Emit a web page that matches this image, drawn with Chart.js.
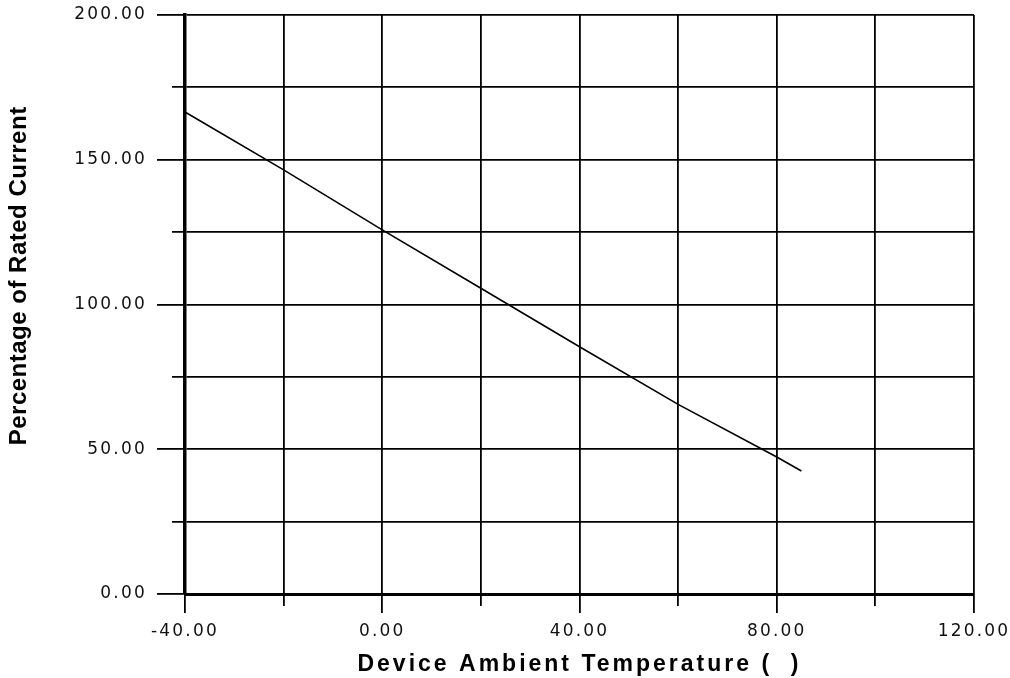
<!DOCTYPE html>
<html>
<head>
<meta charset="utf-8">
<script src="https://cdn.jsdelivr.net/npm/chart.js@4/dist/chart.umd.min.js"></script>
<style>
  html, body { margin: 0; padding: 0; background: #fff; }
  #wrap { width: 1010px; height: 678px; }
</style>
</head>
<body>
<div id="wrap"><canvas id="derating" width="1010" height="678"></canvas></div>
<script>
// values
const temps = [-40, -20, 0, 20, 40, 60, 80, 85];
const currentPct = [166.5, 146.5, 125.8, 105.6, 85.4, 65.5, 47.3, 42.5];

const xTitle = 'Device Ambient Temperature (  )';
const yTitle = '        Percentage of Rated Current';

const TICK_SPACING = '2.2px';

// linear scale that draws its text with letter spacing (the original labels are wide)
class SpacedScale extends Chart.LinearScale {
    update(maxWidth, maxHeight, margins) {
        this.ctx.letterSpacing = TICK_SPACING;
        const res = super.update(maxWidth, maxHeight, margins);
        this.ctx.letterSpacing = '0px';
        return res;
    }
    drawLabels(area) {
        this.ctx.save();
        this.ctx.letterSpacing = TICK_SPACING;
        super.drawLabels(area);
        this.ctx.restore();
    }
    drawTitle() {
        this.ctx.save();
        this.ctx.letterSpacing = this.axis === 'y' ? '0.5px' : '3px';
        super.drawTitle();
        this.ctx.restore();
    }
}
SpacedScale.id = 'spaced';
SpacedScale.defaults = Chart.LinearScale.defaults;
Chart.register(SpacedScale);

const tickFont = { family: 'DejaVu Sans', size: 17 };

const points = temps.map((t, i) => ({ x: t, y: currentPct[i] }));

new Chart(document.getElementById('derating'), {
    type: 'line',
    data: {
        datasets: [{
            data: points,
            borderColor: '#000',
            borderWidth: 1.6,
            pointRadius: 0,
            tension: 0,
            fill: false
        }]
    },
    options: {
        responsive: false,
        animation: false,
        events: [],
        layout: { padding: { top: 15, right: 36, left: 0, bottom: 0 } },
        plugins: { legend: { display: false }, tooltip: { enabled: false } },
        scales: {
            x: {
                type: 'spaced',
                min: -40,
                max: 120,
                ticks: {
                    stepSize: 20,
                    padding: 8,
                    color: '#111',
                    font: tickFont,
                    maxRotation: 0,
                    autoSkip: false,
                    callback: v => (v % 40 === 0 ? v.toFixed(2) : '')
                },
                grid: {
                    color: '#000',
                    lineWidth: 1.8,
                    tickLength: 19,
                    tickColor: '#000',
                    tickWidth: 1.8,
                    // short stubs for the unlabelled ticks
                    tickBorderDash: ctx => (ctx.tick && ctx.tick.value % 40 !== 0 ? [10, 40] : [])
                },
                border: { display: true, color: '#000', width: 3 },
                title: {
                    display: true,
                    text: xTitle,
                    color: '#000',
                    font: { family: 'Liberation Sans', size: 23, weight: 'bold' },
                    padding: { top: 0, bottom: 0 }
                },
                afterFit: scale => {
                    scale.height = 84;
                    scale.paddingLeft = 0;
                    scale.paddingRight = 0;
                }
            },
            y: {
                type: 'spaced',
                min: 0,
                max: 200,
                ticks: {
                    stepSize: 25,
                    padding: 10,
                    color: '#111',
                    font: tickFont,
                    autoSkip: false,
                    callback: v => (v % 50 === 0 ? v.toFixed(2) : '')
                },
                grid: {
                    color: '#000',
                    lineWidth: 1.8,
                    tickLength: 28,
                    tickColor: '#000',
                    tickWidth: 1.8,
                    tickBorderDash: ctx => (ctx.tick && ctx.tick.value % 50 !== 0 ? [0, 15, 40] : [])
                },
                border: { display: true, color: '#000', width: 3.5 },
                title: {
                    display: true,
                    text: yTitle,
                    color: '#000',
                    font: { family: 'Liberation Sans', size: 24, weight: 'bold' },
                    padding: { top: 5, bottom: 0 }
                },
                afterFit: scale => {
                    scale.width = 185;
                    scale.paddingTop = 0;
                    scale.paddingBottom = 0;
                }
            }
        }
    }
});
</script>
</body>
</html>
